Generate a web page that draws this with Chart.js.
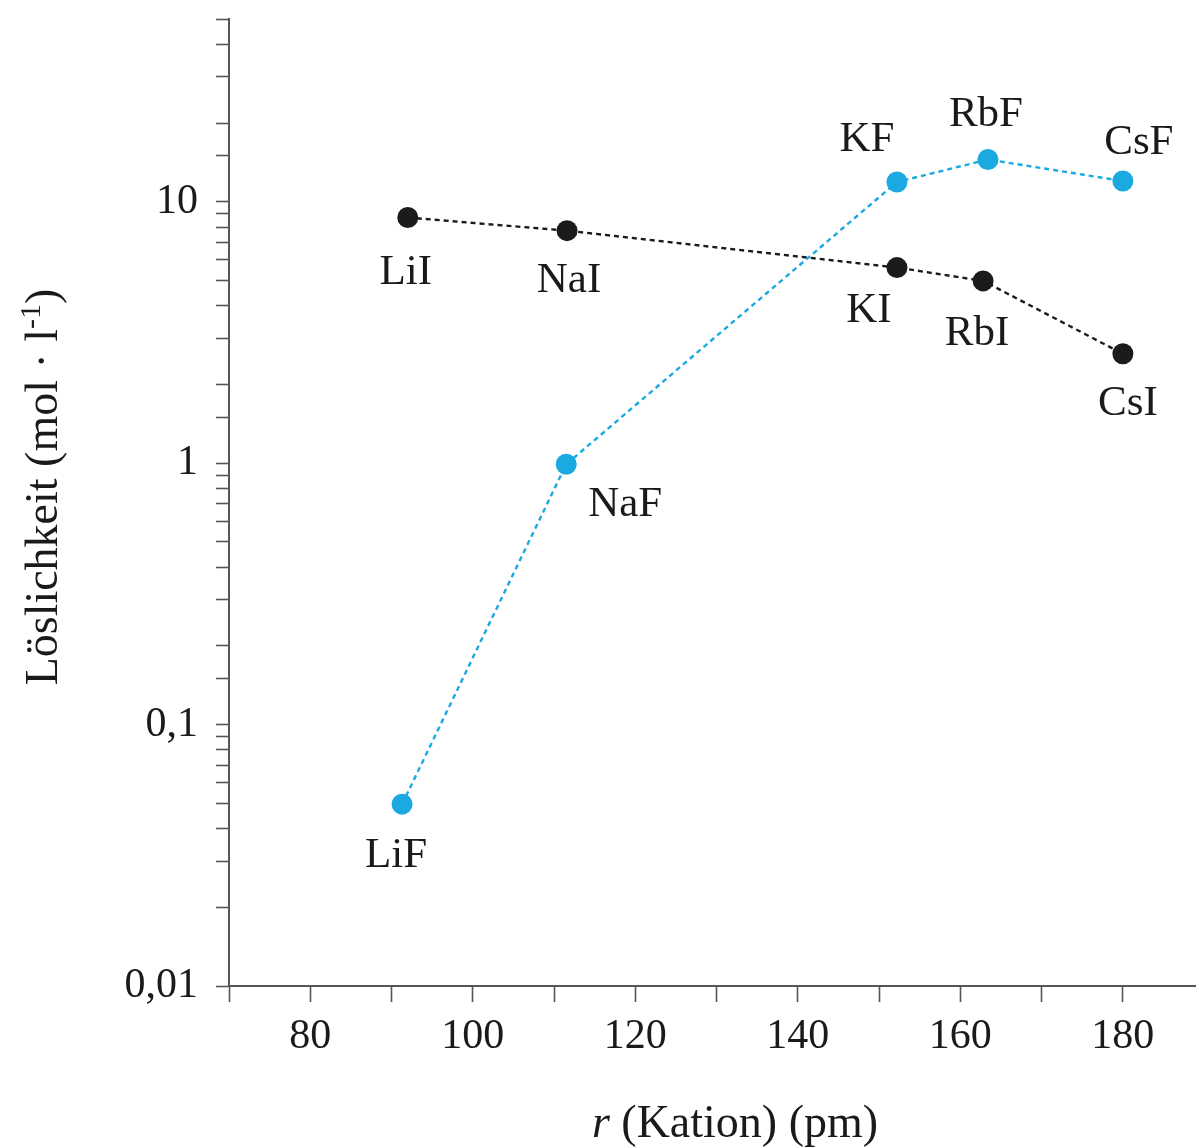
<!DOCTYPE html>
<html>
<head>
<meta charset="utf-8">
<script src="https://cdn.jsdelivr.net/npm/chart.js@4/dist/chart.umd.min.js"></script>
<style>
  html, body { margin: 0; padding: 0; background: #ffffff; }
  #wrap { width: 1196px; height: 1148px; position: relative; }
</style>
</head>
<body>
<div id="wrap"><canvas id="c" width="1196" height="1148"></canvas></div>
<script>
// ---- data ----
const fluorideNames = ['LiF', 'NaF', 'KF', 'RbF', 'CsF'];
const fluorideRadius = [91.3, 111.5, 152.2, 163.4, 180.0];
const fluorideSolubility = [0.0496, 0.99, 11.9, 14.5, 12.0];

const iodideNames = ['LiI', 'NaI', 'KI', 'RbI', 'CsI'];
const iodideRadius = [92.0, 111.6, 152.2, 162.8, 180.0];
const iodideSolubility = [8.7, 7.75, 5.6, 4.98, 2.62];

const xTickValues = [70, 80, 90, 100, 110, 120, 130, 140, 150, 160, 170, 180];
const xTickLabels = ['', '80', '', '100', '', '120', '', '140', '', '160', '', '180'];
const yLabelledTicks = [0.01, 0.1, 1, 10];
const yLabelTexts = ['0,01', '0,1', '1', '10'];

const xTitleItalic = 'r';
const xTitleRest = ' (Kation) (pm)';
const yTitleMain = 'Löslichkeit (mol · l';
const yTitleSup = '-1';
const yTitleEnd = ')';

// ---- styling ----
const BLUE = '#1aa9e1';
const BLACK = '#1b1b1b';
const AXIS = '#555555';
const SERIF = '"Liberation Serif", "Times New Roman", serif';

// label offsets (pixels) relative to each point, styling only
const fluorideLabelOffsets = [[-6, 52], [59, 40], [-30, -42], [-2, -45], [16, -38]];
const iodideLabelOffsets = [[-2, 55], [2, 50], [-28, 43], [-6, 53], [5, 50]];

function pts(xs, ys) { return xs.map((x, i) => ({ x: x, y: ys[i] })); }

const labelPlugin = {
  id: 'pointLabels',
  afterDatasetsDraw(chart) {
    const ctx = chart.ctx;
    ctx.save();
    ctx.font = '43px ' + SERIF;
    ctx.fillStyle = '#1a1a1a';
    ctx.textAlign = 'center';
    ctx.textBaseline = 'middle';
    const groups = [
      [0, fluorideNames, fluorideLabelOffsets],
      [1, iodideNames, iodideLabelOffsets]
    ];
    groups.forEach(([di, names, offs]) => {
      const meta = chart.getDatasetMeta(di);
      meta.data.forEach((el, i) => {
        ctx.fillText(names[i], el.x + offs[i][0], el.y + offs[i][1]);
      });
    });
    ctx.restore();
  }
};

const titlePlugin = {
  id: 'axisTitles',
  afterDraw(chart) {
    const ctx = chart.ctx;
    ctx.save();
    ctx.fillStyle = '#1a1a1a';
    ctx.textBaseline = 'alphabetic';
    // x title
    const fItal = 'italic 46px ' + SERIF;
    const fNorm = '46px ' + SERIF;
    ctx.font = fItal;
    const w1 = ctx.measureText(xTitleItalic).width;
    ctx.font = fNorm;
    const w2 = ctx.measureText(xTitleRest).width;
    const cx = 735;
    let x0 = cx - (w1 + w2) / 2;
    const by = 1137;
    ctx.font = fItal; ctx.textAlign = 'left';
    ctx.fillText(xTitleItalic, x0, by);
    ctx.font = fNorm;
    ctx.fillText(xTitleRest, x0 + w1, by);

    // y title (rotated)
    ctx.translate(57, 487);
    ctx.rotate(-Math.PI / 2);
    const fSup = '30px ' + SERIF;
    ctx.font = fNorm;
    const a = ctx.measureText(yTitleMain).width;
    const c = ctx.measureText(yTitleEnd).width;
    ctx.font = fSup;
    const b = ctx.measureText(yTitleSup).width;
    let s = -(a + b + c) / 2;
    ctx.font = fNorm;
    ctx.fillText(yTitleMain, s, 0);
    ctx.font = fSup;
    ctx.fillText(yTitleSup, s + a, -17);
    ctx.font = fNorm;
    ctx.fillText(yTitleEnd, s + a + b, 0);
    ctx.restore();
  }
};

new Chart(document.getElementById('c'), {
  type: 'line',
  data: {
    datasets: [
      {
        label: 'Fluoride',
        data: pts(fluorideRadius, fluorideSolubility),
        borderColor: BLUE,
        backgroundColor: BLUE,
        pointBackgroundColor: BLUE,
        pointBorderColor: BLUE,
        pointRadius: 10.5,
        pointBorderWidth: 0,
        borderWidth: 2.4,
        borderDash: [5, 4],
        tension: 0
      },
      {
        label: 'Iodide',
        data: pts(iodideRadius, iodideSolubility),
        borderColor: BLACK,
        backgroundColor: BLACK,
        pointBackgroundColor: BLACK,
        pointBorderColor: BLACK,
        pointRadius: 10.5,
        pointBorderWidth: 0,
        borderWidth: 2.4,
        borderDash: [5, 4],
        tension: 0
      }
    ]
  },
  options: {
    responsive: false,
    animation: false,
    devicePixelRatio: 1,
    layout: { autoPadding: false, padding: { top: 19, right: 0, left: 0, bottom: 0 } },
    plugins: {
      legend: { display: false },
      tooltip: { enabled: false },
      title: { display: false }
    },
    scales: {
      x: {
        type: 'linear',
        min: 70,
        max: 189,
        afterBuildTicks(scale) {
          scale.ticks = xTickValues.map(v => ({ value: v }));
        },
        afterFit(scale) {
          scale.height = 1148 - 986;
          scale.paddingLeft = 0;
          scale.paddingRight = 0;
        },
        border: { display: true, color: AXIS, width: 2 },
        grid: {
          display: true,
          drawOnChartArea: false,
          drawTicks: true,
          tickLength: 16,
          tickWidth: 1.6,
          tickColor: AXIS
        },
        ticks: {
          autoSkip: false,
          maxRotation: 0,
          padding: 10,
          color: '#1a1a1a',
          font: { family: SERIF, size: 42 },
          callback(value) {
            const i = xTickValues.indexOf(value);
            return i >= 0 ? xTickLabels[i] : '';
          }
        }
      },
      y: {
        type: 'logarithmic',
        min: 0.01,
        max: 50,
        afterFit(scale) {
          scale.width = 229;
          scale.paddingTop = 0;
          scale.paddingBottom = 0;
        },
        border: { display: true, color: AXIS, width: 2 },
        grid: {
          display: true,
          drawOnChartArea: false,
          drawTicks: true,
          tickLength: 13,
          tickWidth: 1.6,
          tickColor: AXIS
        },
        ticks: {
          autoSkip: false,
          padding: 18,
          color: '#1a1a1a',
          font: { family: SERIF, size: 42 },
          callback(value) {
            for (let i = 0; i < yLabelledTicks.length; i++) {
              if (Math.abs(value - yLabelledTicks[i]) < yLabelledTicks[i] * 1e-6) return yLabelTexts[i];
            }
            return '';
          }
        }
      }
    }
  },
  plugins: [labelPlugin, titlePlugin]
});
</script>
</body>
</html>
